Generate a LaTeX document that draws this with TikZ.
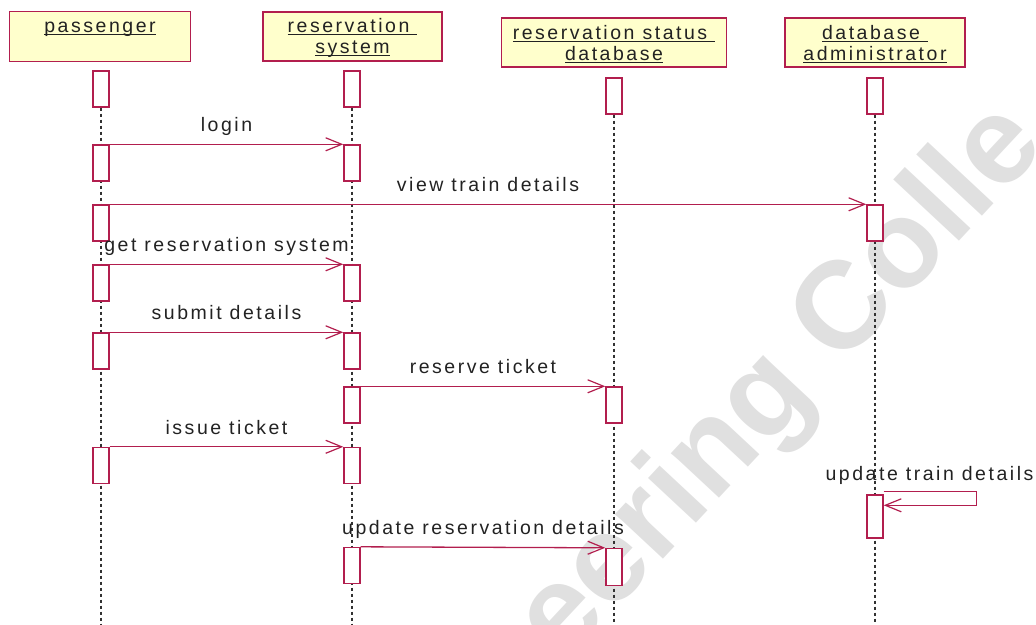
\documentclass[tikz,border=0pt]{standalone}
\usepackage{fontspec}
\setmainfont{Liberation Sans}[LetterSpace=13]
\newfontfamily\wmfont{Liberation Sans}
\usetikzlibrary{arrows.meta}

\definecolor{umlred}{RGB}{178,30,78}
\definecolor{umlyellow}{RGB}{255,255,204}
\definecolor{inkgray}{RGB}{34,34,34}
\definecolor{lifegray}{RGB}{50,50,50}
\definecolor{wmgray}{RGB}{224,224,224}

% underline sitting just below the baseline, crossing descenders
\newcommand\umlul[1]{\setbox0\hbox{#1}\rlap{\color{inkgray}\rule[-2.2pt]{\wd0}{1.1pt}}\box0}

\tikzset{
  objbox/.style={draw=umlred, fill=umlyellow, line width=1.4pt, inner sep=0pt},
  objtext/.style={anchor=base, inner sep=0pt, text=inkgray, font=\fontsize{19.5}{21}\selectfont},
  act/.style={draw=umlred, fill=white, line width=1.4pt, minimum width=16pt, minimum height=36pt, inner sep=0pt},
  life/.style={draw=lifegray, line width=1.7pt, dash pattern=on 3pt off 3pt},
  msg/.style={draw=umlred, line width=1.3pt, -{Straight Barb[length=16pt,width=13pt,line width=1.2pt]}},
  lbl/.style={anchor=base, yshift=12.5pt, inner sep=0pt, text=inkgray, font=\fontsize{19.5}{21}\selectfont},
  wm/.style={text=wmgray, inner sep=0pt, font=\wmfont\bfseries\fontsize{124}{124}\selectfont}
}

\begin{document}
\begin{tikzpicture}[x=1pt,y=-1pt]
\useasboundingbox (0,0) rectangle (1036,624);

% watermark behind everything
\begin{scope}
  \clip (0,0) rectangle (1036,624);
  \node[wm, rotate=47, anchor=base west] (wm) at (563,666) {eering Colle};
\end{scope}

% object heads
\node[objbox, minimum width=181pt, minimum height=50pt] (hp) at (100,36.5) {};
\node[objbox, minimum width=179pt, minimum height=49pt] (hr) at (352.5,36.5) {};
\node[objbox, minimum width=225pt, minimum height=49pt] (hs) at (614,42.5) {};
\node[objbox, minimum width=180pt, minimum height=49pt] (hd) at (875,42.5) {};

\node[objtext] (tp)  at (100,32.5) {\umlul{passenger}};
\node[objtext] (tr1) at (352.5,32.5) {\umlul{reservation\ }};
\node[objtext] (tr2) at (352.5,53.5) {\umlul{system}};
\node[objtext] (ts1) at (614,39.5) {\umlul{reservation status\ }};
\node[objtext] (ts2) at (614,60.5) {\umlul{database}};
\node[objtext] (td1) at (875,39.5) {\umlul{database\ }};
\node[objtext] (td2) at (875,60.5) {\umlul{administrator}};

% lifeline ends
\coordinate (pEnd) at (101,624);
\coordinate (rEnd) at (352,624);
\coordinate (sEnd) at (614,624);
\coordinate (dEnd) at (875,624);

% first activations (start of each lifeline)
\node[act] (p0) at (101,89) {};
\node[act] (r0) at (352,89) {};
\node[act] (s0) at (614,96) {};
\node[act] (d0) at (875,96) {};

% lifelines
\draw[life] (p0.south) -- (pEnd);
\draw[life] (r0.south) -- (rEnd);
\draw[life] (s0.south) -- (sEnd);
\draw[life] (d0.south) -- (dEnd);

% activations
\node[act] (p1) at (101,163) {};
\node[act] (p2) at (101,223) {};
\node[act] (p3) at (101,283) {};
\node[act] (p4) at (101,351) {};
\node[act] (p5) at (101,465.5) {};

\node[act] (r1) at (352,163) {};
\node[act] (r3) at (352,283) {};
\node[act] (r4) at (352,351) {};
\node[act] (r5) at (352,405) {};
\node[act] (r6) at (352,465.5) {};
\node[act] (r7) at (352,565.5) {};

\node[act] (s1) at (614,405) {};
\node[act, minimum height=37pt] (s2) at (614,567) {};

\node[act] (d1) at (875,223) {};
\node[act, minimum height=43pt] (d2) at (875,516.5) {};

% messages
\draw[msg] (p1.north east) -- node[lbl] {login} (r1.north west);
\draw[msg] (p2.north east) -- node[lbl] {view train details} (d1.north west);
\draw[msg] (p3.north east) -- node[lbl] {get reservation system} (r3.north west);
\draw[msg] (p4.north east) -- node[lbl] {submit details} (r4.north west);
\draw[msg] (r5.north east) -- node[lbl] {reserve ticket} (s1.north west);
\draw[msg] (p5.north east) -- node[lbl] {issue ticket} (r6.north west);
\draw[msg] (r7.north east) -- node[lbl] {update reservation details} (s2.north west);

% self call on the administrator
\draw[msg] ([yshift=3pt]d2.north east) -- ++(93,0) -- ++(0,14) -- ([yshift=-11pt]d2.north east);
\node[lbl, yshift=-12.5pt] (selflbl) at (929.5,480) {update train details};

\end{tikzpicture}
\end{document}
